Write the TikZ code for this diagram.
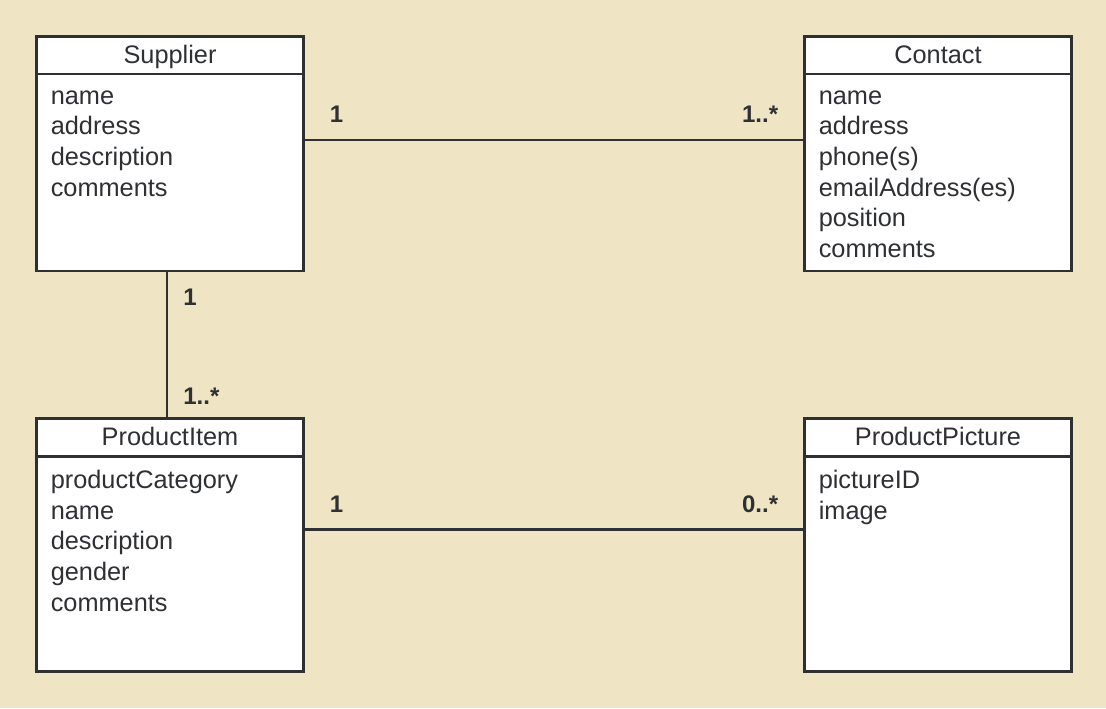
\documentclass[tikz,border=0pt]{standalone}
\usepackage[rgb]{xcolor}
\usepackage{fontspec}
\setmainfont{Liberation Sans}
\usetikzlibrary{positioning}
\newdimen\classW
\newdimen\classGapX
\newdimen\classGapY
\setlength{\classW}{200.25pt}
\setlength{\classGapX}{375.75pt}
\setlength{\classGapY}{110.6pt}
\definecolor{paper}{HTML}{EFE5C4}
\definecolor{ink}{HTML}{2E3033}

\begin{document}
\begin{tikzpicture}[
    font=\fontsize{19}{23}\selectfont, text=ink,
    classhead/.style={draw=ink, fill=white, line width=2pt, outer sep=0pt,
      inner sep=0pt, minimum width=\classW, minimum height=28pt,
      text height=14pt, text depth=2.2pt},
    classbody/.style={draw=ink, fill=white, line width=2pt, outer sep=0pt,
      inner sep=0pt, minimum width=\classW},
    attrs/.style={anchor=base west, align=left, inner sep=0pt},
    mult/.style={font=\fontsize{18}{22}\selectfont\bfseries, inner sep=0pt},
    assoc/.style={draw=ink, line width=2pt},
  ]
    \fill[paper] (0,0) rectangle (829.5pt,-531pt);
    \useasboundingbox (0,0) rectangle (829.5pt,-531pt);

    % upper row
    \node[classhead] (supplier-head) at (127.5pt,-41.6pt) {Supplier};
    \node[classbody, minimum height=147.75pt, below=0pt of supplier-head] (supplier) {};
    \node[classhead, right=\classGapX of supplier-head] (contact-head) {Contact};
    \node[classbody, minimum height=147.75pt, below=0pt of contact-head] (contact) {};

    % lower row
    \node[classhead, minimum height=28.5pt, below=\classGapY of supplier] (item-head) {ProductItem};
    \node[classbody, minimum height=161.25pt, below=0pt of item-head] (item) {};
    \node[classhead, minimum height=28.5pt, right=\classGapX of item-head] (picture-head) {ProductPicture};
    \node[classbody, minimum height=161.25pt, below=0pt of picture-head] (picture) {};

    % attribute lists, anchored at the last baseline
    \node[attrs] (supplier-attrs) at ([xshift=10.5pt,yshift=-91.5pt]supplier.north west)
      {name\\address\\description\\comments};
    \node[attrs] (contact-attrs) at ([xshift=10.5pt,yshift=-137.5pt]contact.north west)
      {name\\address\\phone(s)\\emailAddress(es)\\position\\comments};
    \node[attrs] (item-attrs) at ([xshift=10.5pt,yshift=-115.8pt]item.north west)
      {productCategory\\name\\description\\gender\\comments};
    \node[attrs] (picture-attrs) at ([xshift=10.5pt,yshift=-46.8pt]picture.north west)
      {pictureID\\image};

    % associations
    \draw[assoc] ([yshift=24.4pt]supplier.east) -- ([yshift=24.4pt]contact.west)
      node[mult, pos=0, anchor=base west, xshift=18.75pt, yshift=13.5pt] {1}
      node[mult, pos=1, anchor=base east, xshift=-18.75pt, yshift=13.5pt] {1..*};
    \draw[assoc] ([xshift=-2.25pt]supplier.south) -- ([xshift=-2.25pt]item-head.north)
      node[mult, pos=0, anchor=base west, xshift=11.25pt, yshift=-25.5pt] {1}
      node[mult, pos=1, anchor=base west, xshift=11.25pt, yshift=10.5pt] {1..*};
    \draw[assoc] ([yshift=25.9pt]item.east) -- ([yshift=25.9pt]picture.west)
      node[mult, pos=0, anchor=base west, xshift=18.75pt, yshift=12.5pt] {1}
      node[mult, pos=1, anchor=base east, xshift=-18.75pt, yshift=12.5pt] {0..*};
\end{tikzpicture}
\end{document}
